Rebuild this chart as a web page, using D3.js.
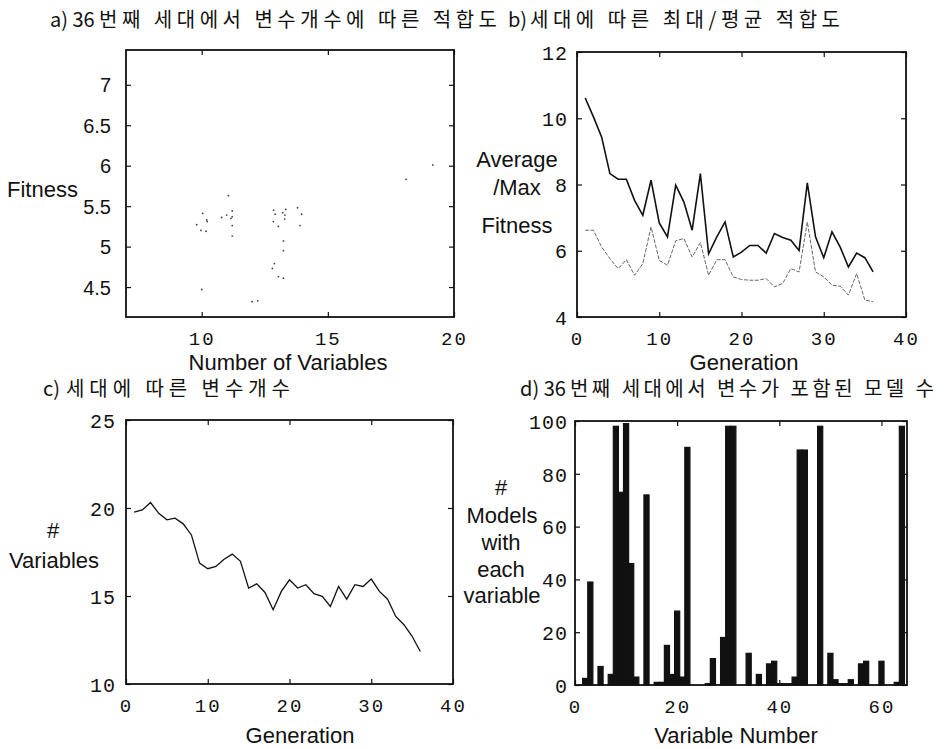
<!DOCTYPE html>
<html>
<head>
<meta charset="utf-8">
<script src="https://cdn.jsdelivr.net/npm/d3@7"></script>
<style>
	body { margin: 0; background: #fff; }
	svg { display: block; }
	.title { font-family: "Noto Sans CJK KR", sans-serif; font-size: 20px; fill: #111; }
	.lab { font-family: "Liberation Sans", Arial, sans-serif; font-size: 22px; fill: #111; }
	.tick text { font-family: "Liberation Mono", monospace; font-size: 20px; fill: #111; letter-spacing: 1px; }
	.xax .tick text { font-size: 19px; letter-spacing: 2px; }
	.sans .tick text { font-family: "Liberation Sans", Arial, sans-serif; letter-spacing: 0; }
	.tick line { stroke: #111; stroke-width: 1.2; }
</style>
</head>
<body>
<svg id="chart" width="947" height="749"></svg>
<script>
'use strict';

// a) number of variables vs fitness, generation 36
var scatterVars = [10.04, 10.2, 10.22, 9.8, 9.97, 10.17, 10.0,
	11.06, 10.79, 10.99, 11.21, 11.21, 11.16, 11.21, 11.21,
	12.0, 12.22,
	12.85, 12.91, 12.84, 13.04, 13.21, 13.33, 13.3, 13.29, 13.24, 13.24, 12.88, 12.8, 13.04, 13.24,
	13.8, 13.96, 13.9,
	18.1, 19.16];
var scatterFitness = [5.41, 5.33, 5.31, 5.27, 5.20, 5.19, 4.47,
	5.63, 5.36, 5.39, 5.44, 5.37, 5.35, 5.26, 5.13,
	4.32, 4.33,
	5.45, 5.40, 5.31, 5.25, 5.42, 5.46, 5.39, 5.34, 5.07, 4.95, 4.79, 4.73, 4.63, 4.61,
	5.48, 5.40, 5.26,
	5.83, 6.01];

// b), c) per generation
var generations = [1, 2, 3, 4, 5, 6, 7, 8, 9, 10, 11, 12, 13, 14, 15, 16, 17, 18,
	19, 20, 21, 22, 23, 24, 25, 26, 27, 28, 29, 30, 31, 32, 33, 34, 35, 36];
var maxFitness = [10.61, 10.04, 9.43, 8.33, 8.16, 8.16, 7.52, 7.07, 8.13, 6.84, 6.42, 7.98,
	7.47, 6.62, 8.33, 5.91, 6.42, 6.87, 5.81, 5.96, 6.16, 6.16, 5.93, 6.52,
	6.40, 6.32, 6.01, 8.05, 6.42, 5.79, 6.57, 6.11, 5.51, 5.93, 5.79, 5.36];
var avgFitness = [6.62, 6.62, 6.11, 5.76, 5.46, 5.73, 5.26, 5.61, 6.72, 5.71, 5.56, 6.30,
	6.37, 5.81, 6.25, 5.26, 5.73, 5.73, 5.21, 5.13, 5.11, 5.11, 5.16, 4.91,
	5.01, 5.46, 5.36, 6.87, 5.36, 5.21, 4.96, 4.93, 4.66, 5.31, 4.51, 4.46];
var numVariables = [19.76, 19.89, 20.31, 19.70, 19.33, 19.42, 19.10, 18.47, 16.87, 16.55, 16.68, 17.09,
	17.38, 16.97, 15.45, 15.69, 15.20, 14.22, 15.26, 15.92, 15.45, 15.64, 15.13, 14.98,
	14.41, 15.54, 14.82, 15.64, 15.54, 15.96, 15.26, 14.82, 13.84, 13.37, 12.71, 11.85];

// d) models containing each variable, generation 36
var variableNumbers = [1, 2, 3, 4, 5, 6, 7, 8, 9, 10, 11, 12, 13, 14, 15, 16,
	17, 18, 19, 20, 21, 22, 23, 24, 25, 26, 27, 28, 29, 30, 31, 32,
	33, 34, 35, 36, 37, 38, 39, 40, 41, 42, 43, 44, 45, 46, 47, 48,
	49, 50, 51, 52, 53, 54, 55, 56, 57, 58, 59, 60, 61, 62, 63, 64];
var modelCounts = [0, 2.5, 39, 0, 7, 0, 4, 98, 73, 99, 46, 3, 0, 72, 0, 1,
	1, 15, 4, 28, 3, 90, 0, 0, 0, 0.5, 10, 0, 18, 98, 98, 0,
	0, 12, 0, 4, 0, 8, 9, 0.5, 0.5, 0.5, 3, 89, 89, 0, 0, 98,
	0, 12, 2, 0.5, 0.5, 2, 0, 8, 9, 0, 0, 9, 0, 0, 1, 98];

var svg = d3.select('#chart');

// Draw a framed panel with MATLAB-like inward ticks on all sides
function makePanel(o) {
	var x = d3.scaleLinear().domain(o.xDomain).range([o.left, o.right]);
	var y = d3.scaleLinear().domain(o.yDomain).range([o.bottom, o.top]);
	var g = svg.append('g');

	g.append('g')
		.attr('class', 'xax')
		.attr('transform', 'translate(0,' + o.bottom + ')')
		.call(d3.axisBottom(x).tickValues(o.xTicks).tickSize(-5).tickSizeOuter(0).tickPadding(15))
		.call(function (a) { a.select('.domain').remove(); });
	g.append('g')
		.attr('class', o.ySans ? 'sans' : null)
		.attr('transform', 'translate(' + o.left + ',0)')
		.call(d3.axisLeft(y).tickValues(o.yTicks).tickSize(-5).tickSizeOuter(0)
			.tickPadding(o.yPad).tickFormat(function (d) { return String(d); }))
		.call(function (a) { a.select('.domain').remove(); a.selectAll('text').attr('dy', '0.36em'); });
	g.append('g')
		.attr('transform', 'translate(0,' + o.top + ')')
		.call(d3.axisTop(x).tickValues(o.xTicks).tickSize(-5).tickSizeOuter(0).tickFormat(''))
		.call(function (a) { a.select('.domain').remove(); });
	g.append('g')
		.attr('transform', 'translate(' + o.right + ',0)')
		.call(d3.axisRight(y).tickValues(o.yTicks).tickSize(-5).tickSizeOuter(0).tickFormat(''))
		.call(function (a) { a.select('.domain').remove(); });

	g.append('rect')
		.attr('x', o.left).attr('y', o.top)
		.attr('width', o.right - o.left).attr('height', o.bottom - o.top)
		.attr('fill', 'none').attr('stroke', '#111').attr('stroke-width', 1.8);

	// title: latin prefix kept tight, hangul part spread to the reference width
	svg.append('text').attr('class', 'title')
		.attr('x', o.titleX[0]).attr('y', o.titleY)
		.text(o.title[0]);
	svg.append('text').attr('class', 'title')
		.attr('x', o.titleX[1]).attr('y', o.titleY)
		.attr('textLength', o.titleX[2] - o.titleX[1]).attr('lengthAdjust', 'spacing')
		.text(o.title[1]);

	svg.append('text').attr('class', 'lab')
		.attr('x', o.xLabelX).attr('y', o.xLabelY)
		.attr('text-anchor', 'middle')
		.text(o.xLabel);

	o.yLabel.forEach(function (line) {
		svg.append('text').attr('class', 'lab')
			.attr('x', line[1]).attr('y', line[2])
			.attr('text-anchor', line[3] || 'middle')
			.text(line[0]);
	});

	return { g: g, x: x, y: y };
}

// a) scatter
var pa = makePanel({
	left: 126, right: 454, top: 50, bottom: 317,
	xDomain: [7, 20], yDomain: [4.13, 7.43],
	xTicks: [10, 15, 20], yTicks: [4.5, 5, 5.5, 6, 6.5, 7], yPad: 15, ySans: true,
	title: ['a) 36', '번째 세대에서 변수개수에 따른 적합도'], titleX: [50, 99, 497], titleY: 27,
	xLabel: 'Number of Variables', xLabelX: 288, xLabelY: 370,
	yLabel: [['Fitness', 7, 197, 'start']]
});
pa.g.selectAll('circle.dot')
	.data(scatterVars)
	.enter().append('circle')
	.attr('class', 'dot')
	.attr('cx', function (d) { return pa.x(d); })
	.attr('cy', function (d, i) { return pa.y(scatterFitness[i]); })
	.attr('r', 0.9)
	.attr('fill', '#444');

// b) max / average fitness
var pb = makePanel({
	left: 577, right: 906, top: 52, bottom: 317,
	xDomain: [0, 40], yDomain: [4, 12],
	xTicks: [0, 10, 20, 30, 40], yTicks: [4, 6, 8, 10, 12], yPad: 9,
	title: ['b)', '세대에 따른 최대/평균 적합도'], titleX: [508, 530, 840], titleY: 27,
	xLabel: 'Generation', xLabelX: 744, xLabelY: 370,
	yLabel: [['Average', 517, 167], ['/Max', 517, 195], ['Fitness', 517, 233]]
});
var lineB = function (vals) {
	return d3.line()
		.x(function (d) { return pb.x(d); })
		.y(function (d, i) { return pb.y(vals[i]); })(generations);
};
pb.g.append('path').attr('d', lineB(avgFitness))
	.attr('fill', 'none').attr('stroke', '#666').attr('stroke-width', 1)
	.attr('stroke-dasharray', '4,1.5');
pb.g.append('path').attr('d', lineB(maxFitness))
	.attr('fill', 'none').attr('stroke', '#111').attr('stroke-width', 1.6);

// c) number of variables per generation
var pc = makePanel({
	left: 126, right: 453, top: 420, bottom: 684,
	xDomain: [0, 40], yDomain: [10, 25],
	xTicks: [0, 10, 20, 30, 40], yTicks: [10, 15, 20, 25], yPad: 10,
	title: ['c)', '세대에 따른 변수개수'], titleX: [43, 66, 290], titleY: 396,
	xLabel: 'Generation', xLabelX: 300, xLabelY: 743,
	yLabel: [['#', 53, 538], ['Variables', 54, 568]]
});
pc.g.append('path')
	.attr('d', d3.line()
		.x(function (d) { return pc.x(d); })
		.y(function (d, i) { return pc.y(numVariables[i]); })(generations))
	.attr('fill', 'none').attr('stroke', '#111').attr('stroke-width', 1.3);

// d) models with each variable
var pd = makePanel({
	left: 575, right: 907, top: 421, bottom: 685,
	xDomain: [0, 65], yDomain: [0, 100],
	xTicks: [0, 20, 40, 60], yTicks: [0, 20, 40, 60, 80, 100], yPad: 7,
	title: ['d) 36', '번째 세대에서 변수가 포함된 모델 수'], titleX: [520, 570, 934], titleY: 396,
	xLabel: 'Variable Number', xLabelX: 736, xLabelY: 743,
	yLabel: [['#', 501, 495], ['Models', 502, 523], ['with', 501, 550], ['each', 501, 577], ['variable', 502, 603]]
});
pd.g.selectAll('rect.bar')
	.data(variableNumbers)
	.enter().append('rect')
	.attr('class', 'bar')
	.attr('x', function (d) { return pd.x(d - 0.5); })
	.attr('y', function (d, i) { return pd.y(modelCounts[i]); })
	.attr('width', function (d) { return pd.x(d + 0.5) - pd.x(d - 0.5); })
	.attr('height', function (d, i) { return pd.y(0) - pd.y(modelCounts[i]); })
	.attr('fill', '#111')
	.attr('stroke', '#111')
	.attr('stroke-width', function (d, i) { return modelCounts[i] > 0 ? 1.2 : 0; });
</script>
</body>
</html>
